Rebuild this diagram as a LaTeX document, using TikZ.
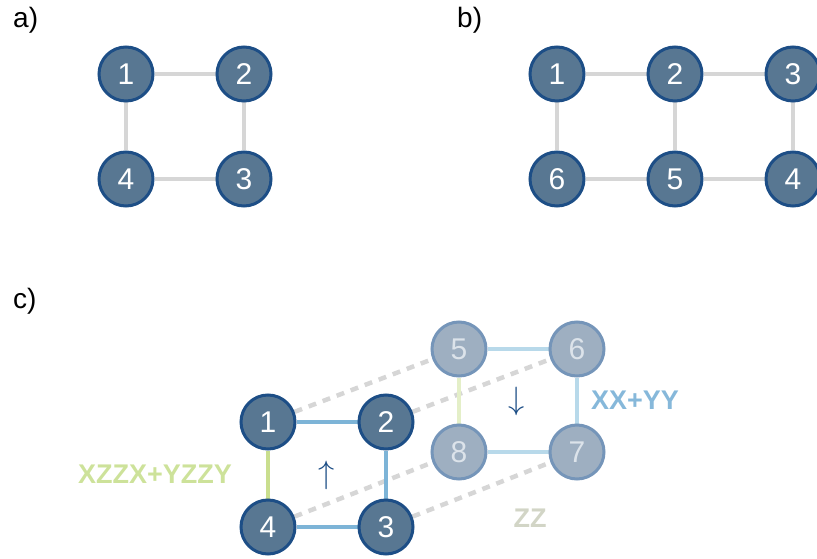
\documentclass[tikz,border=0pt]{standalone}
\usepackage{fontspec}
\setmainfont{Liberation Sans}
\usetikzlibrary{backgrounds}
\definecolor{nodefill}{HTML}{587792}
\definecolor{nodeborder}{HTML}{1D4E86}
\definecolor{fadefill}{HTML}{9EAFC1}
\definecolor{fadeborder}{HTML}{7595B9}
\definecolor{fadetext}{HTML}{DCE3EA}
\definecolor{edgegray}{HTML}{D6D6D6}
\definecolor{frontblue}{HTML}{7DB4D7}
\definecolor{backblue}{HTML}{B8D9EA}
\definecolor{frontgreen}{HTML}{C9DE8E}
\definecolor{backgreen}{HTML}{E4EFC8}
\definecolor{labgreen}{HTML}{CDE29A}
\definecolor{labblue}{HTML}{86B8DA}
\definecolor{labgray}{HTML}{D2D5C6}
\tikzset{
  qubit/.style={circle, fill=nodefill, draw=nodeborder, line width=3pt,
    minimum size=54pt, inner sep=0pt, text=white,
    font=\fontsize{30}{30}\selectfont},
  fadequbit/.style={qubit, fill=fadefill, draw=fadeborder, text=fadetext},
  grayedge/.style={draw=edgegray, line width=4.5pt},
  dashedge/.style={draw=edgegray, line width=4.5pt, dash pattern=on 8pt off 7pt},
  fblue/.style={draw=frontblue, line width=4.5pt},
  bblue/.style={draw=backblue, line width=4.5pt},
  fgreen/.style={draw=frontgreen, line width=4.5pt},
  bgreen/.style={draw=backgreen, line width=4.5pt},
  panellabel/.style={anchor=base west, inner sep=0pt, font=\fontsize{28}{28}\selectfont},
  termlabel/.style={inner sep=0pt, font=\fontsize{27}{27}\selectfont\bfseries},
  spinarrow/.style={inner sep=0pt, text=nodeborder, font=\fontsize{24.88}{24.88}\selectfont}
}
\begin{document}
\begin{tikzpicture}[x=1pt, y=-1pt]
\useasboundingbox (0,0) rectangle (817,559);
% panel labels
\node[panellabel] (la) at (13,28) {a)};
\node[panellabel] (lb) at (457,28) {b)};
\node[panellabel] (lc) at (13,308) {c)};
% panel a
\node[qubit] (a1) at (126,74) {1};
\node[qubit] (a2) at (244,74) {2};
\node[qubit] (a3) at (244,179) {3};
\node[qubit] (a4) at (126,179) {4};
% panel b
\node[qubit] (b1) at (557,74) {1};
\node[qubit] (b2) at (675,74) {2};
\node[qubit] (b3) at (793,74) {3};
\node[qubit] (b4) at (793,179) {4};
\node[qubit] (b5) at (675,179) {5};
\node[qubit] (b6) at (557,179) {6};
% panel c
\node[qubit] (c1) at (268,422) {1};
\node[qubit] (c2) at (386,422) {2};
\node[qubit] (c3) at (386,527) {3};
\node[qubit] (c4) at (268,527) {4};
\node[fadequbit] (c5) at (459,349) {5};
\node[fadequbit] (c6) at (577,349) {6};
\node[fadequbit] (c7) at (577,452) {7};
\node[fadequbit] (c8) at (459,452) {8};
\node[spinarrow] (up) at (327,475) {\scalebox{1.3}{$\uparrow$}};
\node[spinarrow] (down) at (517,401) {\scalebox{1.3}{$\downarrow$}};
\node[termlabel, text=labgreen] (t1) at (155,474) {XZZX+YZZY};
\node[termlabel, text=labblue] (t2) at (635,400) {XX+YY};
\node[termlabel, text=labgray] (t3) at (530,518) {ZZ};
\begin{pgfonlayer}{background}
\draw[grayedge] (a1) -- (a2);
\draw[grayedge] (a2) -- (a3);
\draw[grayedge] (a3) -- (a4);
\draw[grayedge] (a4) -- (a1);
\draw[grayedge] (b1) -- (b2);
\draw[grayedge] (b2) -- (b3);
\draw[grayedge] (b3) -- (b4);
\draw[grayedge] (b4) -- (b5);
\draw[grayedge] (b5) -- (b6);
\draw[grayedge] (b6) -- (b1);
\draw[grayedge] (b2) -- (b5);
\draw[dashedge] (c1) -- (c5);
\draw[dashedge] (c2) -- (c6);
\draw[dashedge] (c3) -- (c7);
\draw[dashedge] (c4) -- (c8);
\draw[fblue] (c1) -- (c2);
\draw[fblue] (c2) -- (c3);
\draw[fblue] (c3) -- (c4);
\draw[fgreen] (c4) -- (c1);
\draw[bblue] (c5) -- (c6);
\draw[bblue] (c6) -- (c7);
\draw[bblue] (c7) -- (c8);
\draw[bgreen] (c8) -- (c5);
\end{pgfonlayer}
\end{tikzpicture}
\end{document}
